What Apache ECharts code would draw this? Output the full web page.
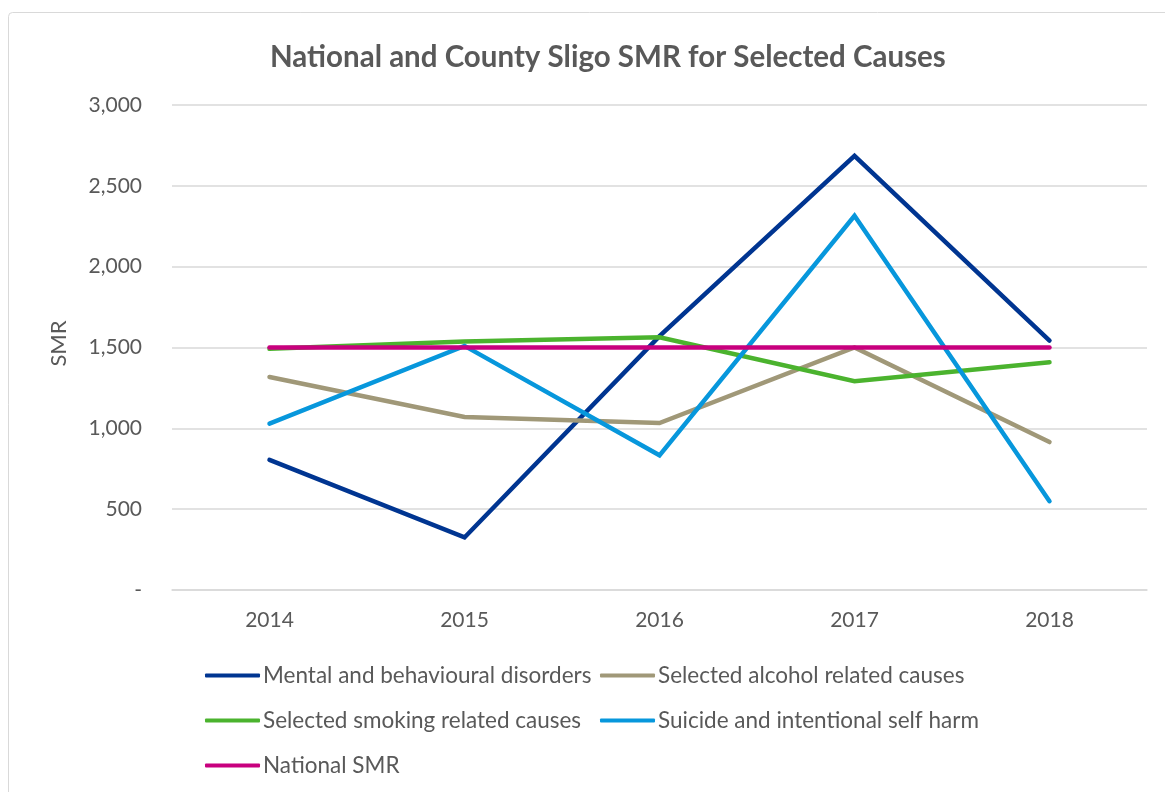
<!DOCTYPE html>
<html>
<head>
<meta charset="utf-8">
<script src="https://cdn.jsdelivr.net/npm/echarts@6/dist/echarts.min.js"></script>
<style>
  html, body { margin: 0; padding: 0; background: #ffffff; }
  #chart { width: 1165px; height: 792px; }
</style>
</head>
<body>
<div id="chart"></div>
<script>
// Standardised mortality ratios, County Sligo vs national, 2014-2018
const years = ['2014', '2015', '2016', '2017', '2018'];
const mentalBehavioural = [805, 325, 1570, 2685, 1543];
const alcoholRelated = [1318, 1070, 1033, 1500, 915];
const smokingRelated = [1492, 1537, 1563, 1292, 1409];
const suicideSelfHarm = [1029, 1510, 833, 2315, 549];
const nationalSMR = [1500, 1500, 1500, 1500, 1500];
const yTicks = { min: 0, max: 3000, step: 500 };

const seriesNames = [
  'Mental and behavioural disorders',
  'Selected alcohol related causes',
  'Selected smoking related causes',
  'Suicide and intentional self harm',
  'National SMR'
];
const seriesData = [mentalBehavioural, alcoholRelated, smokingRelated, suicideSelfHarm, nationalSMR];
const colors = ['#003591', '#A09878', '#4BB32E', '#0797DC', '#C8007E'];

const FONT = 'Lato, "Open Sans", sans-serif';
const TEXT = '#595959';

const chart = echarts.init(document.getElementById('chart'), null, { renderer: 'canvas' });

// one legend per entry so the two columns line up
const legendSpots = [
  { left: 205, top: 664 },
  { left: 600, top: 664 },
  { left: 205, top: 709 },
  { left: 600, top: 709 },
  { left: 205, top: 754 }
];
const legends = seriesNames.map((name, i) => ({
  data: [name],
  left: legendSpots[i].left,
  top: legendSpots[i].top,
  orient: 'horizontal',
  itemWidth: 55,
  itemHeight: 4,
  itemGap: 0,
  padding: 0,
  icon: 'roundRect',
  selectedMode: false,
  textStyle: { color: TEXT, fontSize: 22.5, fontFamily: FONT, padding: [0, 0, 0, -2] }
}));

chart.setOption({
  animation: false,
  backgroundColor: '#ffffff',
  color: colors,
  title: {
    text: 'National and County Sligo SMR for Selected Causes',
    left: 270,
    top: 42,
    padding: 0,
    textStyle: { color: TEXT, fontSize: 29.5, fontWeight: 'bold', fontFamily: FONT }
  },
  graphic: [{
    type: 'rect',
    shape: { x: 8.5, y: 12.5, width: 1170, height: 800, r: 4 },
    style: { fill: 'none', stroke: '#d9d9d9', lineWidth: 1 },
    silent: true,
    z: -1
  }],
  legend: legends,
  grid: { left: 172, right: 18, top: 105, bottom: 202 },
  xAxis: {
    type: 'category',
    data: years,
    boundaryGap: true,
    axisLine: { show: true, lineStyle: { color: '#d9d9d9', width: 1.5 } },
    axisTick: { show: false },
    axisLabel: { color: TEXT, fontSize: 21, fontFamily: FONT, margin: 20 }
  },
  yAxis: {
    type: 'value',
    min: yTicks.min,
    max: yTicks.max,
    interval: yTicks.step,
    name: 'SMR',
    nameLocation: 'middle',
    nameGap: 102,
    nameRotate: 90,
    nameTextStyle: { color: TEXT, fontSize: 22, fontFamily: FONT, padding: [0, 0, 0, 8] },
    axisLine: { show: false },
    axisTick: { show: false },
    splitLine: { lineStyle: { color: '#d9d9d9', width: 1.5 } },
    axisLabel: {
      color: TEXT,
      fontSize: 21,
      fontFamily: FONT,
      margin: 30,
      formatter: v => v === 0 ? '-' : v.toLocaleString('en-US')
    }
  },
  series: seriesNames.map((name, i) => ({
    name,
    type: 'line',
    data: seriesData[i],
    symbol: 'none',
    lineStyle: { width: 4.5, color: colors[i], cap: 'round', join: 'miter' },
    itemStyle: { color: colors[i] },
    z: 2 + i
  }))
});
</script>
</body>
</html>
